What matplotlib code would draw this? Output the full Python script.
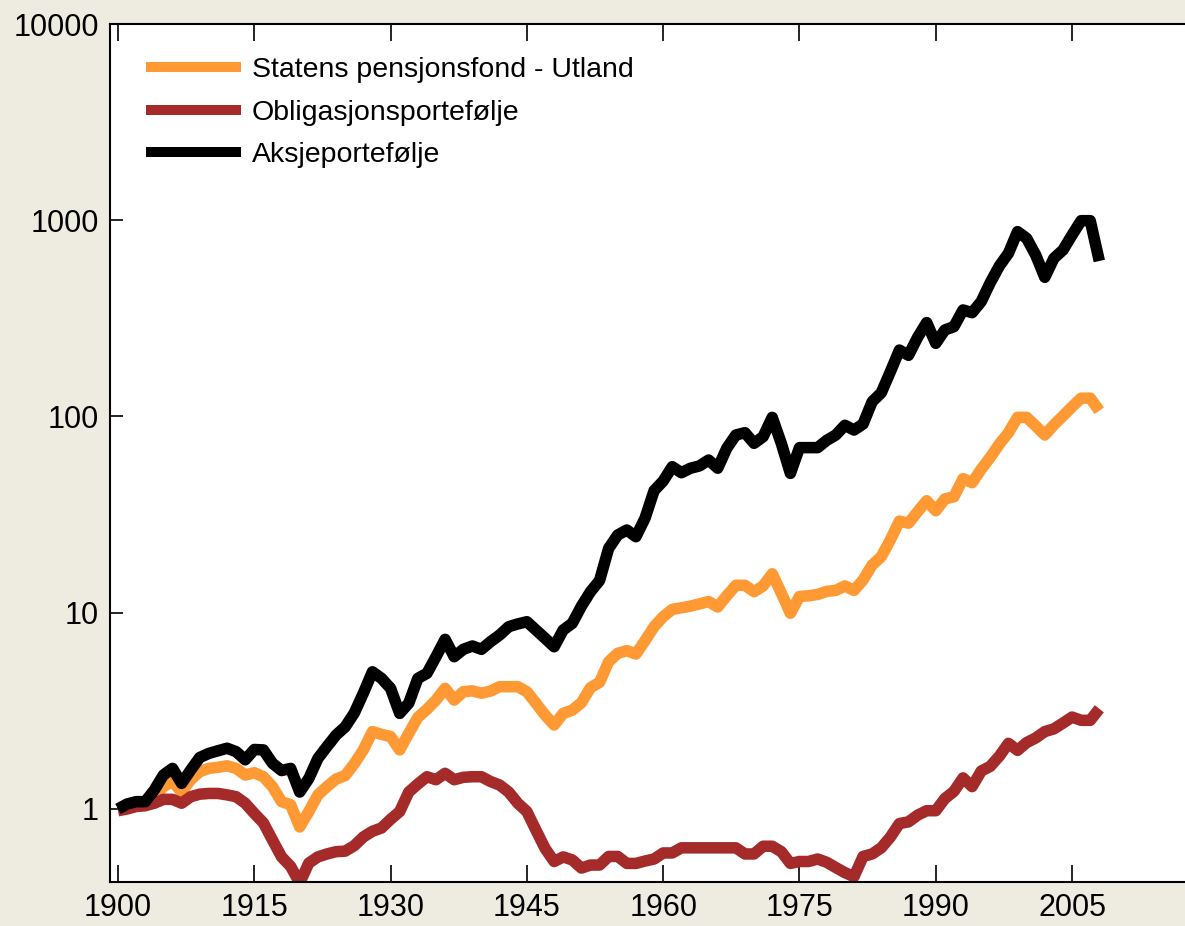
import matplotlib
matplotlib.use("Agg")
import matplotlib.pyplot as plt

plt.rcParams['font.family'] = ['Liberation Sans', 'DejaVu Sans']

years = list(range(1900, 2009))

# Statens pensjonsfond - Utland (index, 1900 = 1)
spu = [1.0, 1.02, 1.03, 1.04, 1.16, 1.30, 1.38, 1.22, 1.41, 1.55,
       1.61, 1.63, 1.66, 1.61, 1.49, 1.53, 1.46, 1.30, 1.09, 1.05,
       0.81, 0.97, 1.18, 1.30, 1.42, 1.48, 1.70, 2.0, 2.48, 2.40,
       2.34, 2.0, 2.43, 2.93, 3.22, 3.59, 4.12, 3.59, 3.96, 4.0,
       3.89, 3.99, 4.2, 4.2, 4.2, 3.96, 3.46, 3.01, 2.68, 3.07,
       3.19, 3.48, 4.15, 4.42, 5.63, 6.21, 6.41, 6.16, 7.2, 8.49,
       9.55, 10.4, 10.6, 10.8, 11.1, 11.4, 10.7, 12.2, 13.8, 13.8,
       12.8, 13.7, 15.8, 12.6, 9.94, 12.1, 12.2, 12.4, 12.85, 13.0,
       13.7, 13.0, 14.7, 17.5, 19.3, 23.5, 29.3, 28.6, 32.7, 37.2,
       33.1, 38.0, 39.0, 48.2, 46.0, 53.8, 62.0, 72.4, 82.7, 99.0,
       99.0, 89.5, 80.5, 90.6, 100.6, 112.0, 124.0, 124.0, 107.0]

# Obligasjonsportefølje
bonds = [0.98, 1.0, 1.03, 1.04, 1.07, 1.12, 1.12, 1.07, 1.155, 1.19,
         1.20, 1.20, 1.18, 1.155, 1.07, 0.95, 0.85, 0.695, 0.57, 0.51,
         0.42, 0.53, 0.57, 0.59, 0.606, 0.61, 0.65, 0.72, 0.77, 0.80,
         0.886, 0.97, 1.22, 1.34, 1.46, 1.41, 1.52, 1.41, 1.45, 1.46,
         1.46, 1.38, 1.325, 1.22, 1.07, 0.97, 0.78, 0.63, 0.54, 0.57,
         0.55, 0.50, 0.518, 0.518, 0.573, 0.573, 0.528, 0.528, 0.543, 0.556,
         0.597, 0.597, 0.634, 0.634, 0.634, 0.634, 0.634, 0.634, 0.634, 0.59,
         0.59, 0.646, 0.646, 0.606, 0.528, 0.54, 0.54, 0.556, 0.535, 0.503,
         0.474, 0.452, 0.573, 0.59, 0.634, 0.719, 0.843, 0.86, 0.93, 0.98,
         0.98, 1.13, 1.23, 1.44, 1.30, 1.56, 1.65, 1.86, 2.16, 1.99,
         2.18, 2.30, 2.48, 2.56, 2.74, 2.94, 2.83, 2.83, 3.24]

# Aksjeportefølje
stocks = [1.0, 1.06, 1.09, 1.09, 1.25, 1.49, 1.61, 1.35, 1.58, 1.83,
          1.92, 1.98, 2.04, 1.96, 1.78, 2.01, 2.0, 1.71, 1.57, 1.61,
          1.22, 1.43, 1.81, 2.08, 2.38, 2.62, 3.08, 3.89, 5.0, 4.63,
          4.12, 3.07, 3.46, 4.63, 4.91, 5.97, 7.32, 5.97, 6.51, 6.77,
          6.51, 7.12, 7.7, 8.49, 8.77, 9.0, 8.17, 7.41, 6.71, 8.17,
          8.84, 10.8, 12.8, 14.6, 21.3, 24.9, 26.4, 24.4, 30.3, 41.9,
          46.9, 55.5, 51.7, 54.5, 56.0, 60.0, 54.5, 68.9, 80.5, 82.7,
          73.0, 78.9, 99.0, 73.0, 51.3, 69.4, 69.4, 69.4, 75.6, 80.5,
          90.2, 85.3, 91.6, 119.0, 132.0, 169.0, 218.0, 205.0, 253.0, 301.0,
          236.0, 276.0, 287.0, 349.0, 338.0, 385.0, 481.0, 585.0, 679.0, 875.0,
          809.0, 665.0, 512.0, 640.0, 705.0, 841.0, 995.0, 995.0, 620.0]

labels = ['Statens pensjonsfond - Utland', 'Obligasjonsportefølje', 'Aksjeportefølje']
colors = ['#FF9933', '#A52A2A', '#000000']

fig = plt.figure(figsize=(11.85, 9.26), dpi=100, facecolor='#EEECE1')
ax = fig.add_axes([110 / 1185, 44 / 926, 1075 / 1185, 858 / 926])
ax.set_facecolor('white')

# Draw order: orange, red, black on top
for vals, col, lab in [(spu, colors[0], labels[0]),
                       (bonds, colors[1], labels[1]),
                       (stocks, colors[2], labels[2])]:
    ax.plot(years, vals, color=col, lw=8.3, label=lab,
            solid_joinstyle='round', solid_capstyle='butt')

ax.set_yscale('log')
ax.set_ylim(0.4246, 10000)
ax.set_xlim(1899.12, 2017.43)
ax.set_yticks([1, 10, 100, 1000, 10000])
ax.set_yticklabels(['1', '10', '100', '1000', '10000'])
ax.minorticks_off()
ax.set_xticks(range(1900, 2006, 15))

ax.tick_params(axis='x', direction='in', length=12, width=1.2, top=True,
               labelsize=22, pad=8)
ax.tick_params(axis='y', direction='in', length=9, width=1.2,
               labelsize=22, pad=8)

for side in ['left', 'bottom', 'top']:
    ax.spines[side].set_linewidth(1.5)
ax.spines['right'].set_visible(False)

leg = ax.legend(loc='upper left', bbox_to_anchor=(146 / 1185, 1 - 57 / 926),
                bbox_transform=fig.transFigure, frameon=False, fontsize=20.5,
                handlelength=3.34, handletextpad=0.38, labelspacing=0.58,
                borderpad=0, borderaxespad=0)
for line in leg.get_lines():
    line.set_linewidth(7.2)

plt.savefig('out.png', dpi=100, facecolor=fig.get_facecolor())
